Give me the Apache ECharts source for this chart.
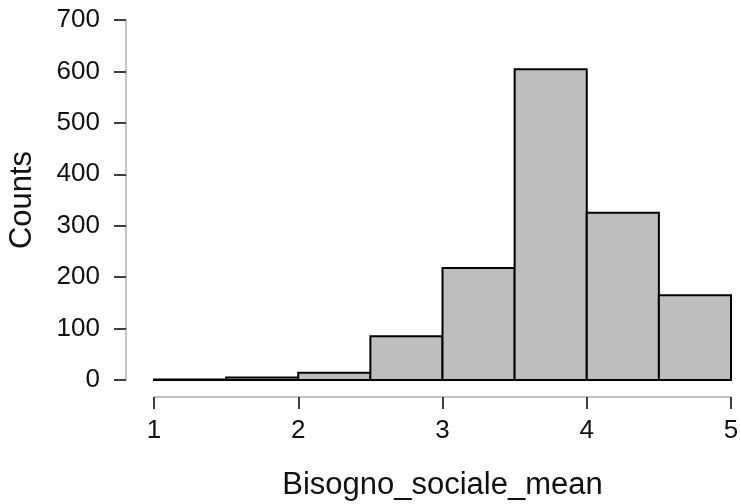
<!DOCTYPE html>
<html><head><meta charset="utf-8">
<script src="https://cdn.jsdelivr.net/npm/echarts@6/dist/echarts.min.js"></script>
<style>html,body{margin:0;padding:0;background:#fff}#c{width:741px;height:504px}</style>
</head><body><div id="c"></div>
<script>
const binStarts = [1, 1.5, 2, 2.5, 3, 3.5, 4, 4.5];
const binEnds   = [1.5, 2, 2.5, 3, 3.5, 4, 4.5, 5];
const counts    = [1, 5, 14, 85, 218, 604, 325, 165];
const xTicks = [1, 2, 3, 4, 5];
const yTicks = [0, 100, 200, 300, 400, 500, 600, 700];

const data = binStarts.map((s, i) => [s, binEnds[i], counts[i]]);
const chart = echarts.init(document.getElementById('c'), null, {renderer: 'canvas'});
const font = 'Liberation Sans, Arial, Helvetica, sans-serif';
chart.setOption({
  animation: false,
  grid: {left: 154, right: 10, top: 20, bottom: 124, containLabel: false, outerBoundsMode: 'none'},
  xAxis: {
    type: 'value', min: xTicks[0], max: xTicks[xTicks.length - 1], interval: 1, offset: 17,
    name: 'Bisogno_sociale_mean', nameLocation: 'middle', nameGap: 73,
    nameTextStyle: {fontSize: 31, color: '#111', fontFamily: font},
    axisLine: {show: true, onZero: false, lineStyle: {color: '#b0b0b0', width: 1.5}},
    axisTick: {show: true, length: 12, lineStyle: {color: '#000', width: 1.5}},
    axisLabel: {fontSize: 26, color: '#111', fontFamily: font, margin: 21},
    splitLine: {show: false}
  },
  yAxis: {
    type: 'value', min: yTicks[0], max: yTicks[yTicks.length - 1], interval: 100, offset: 28,
    name: 'Counts', nameLocation: 'middle', nameGap: 88, nameRotate: 90,
    nameTextStyle: {fontSize: 31, color: '#111', fontFamily: font},
    axisLine: {show: true, onZero: false, lineStyle: {color: '#b0b0b0', width: 1.5}},
    axisTick: {show: true, length: 12, lineStyle: {color: '#000', width: 1.5}},
    axisLabel: {fontSize: 26, color: '#111', fontFamily: font, margin: 26},
    splitLine: {show: false}
  },
  series: [{
    type: 'custom',
    data: data,
    encode: {x: [0, 1], y: 2},
    renderItem: function (params, api) {
      const p0 = api.coord([api.value(0), api.value(2)]);
      const p1 = api.coord([api.value(1), 0]);
      return {
        type: 'rect',
        shape: {x: p0[0], y: p0[1], width: p1[0] - p0[0], height: p1[1] - p0[1]},
        style: {fill: '#bebebe', stroke: '#000', lineWidth: 2}
      };
    }
  }]
});
</script></body></html>
